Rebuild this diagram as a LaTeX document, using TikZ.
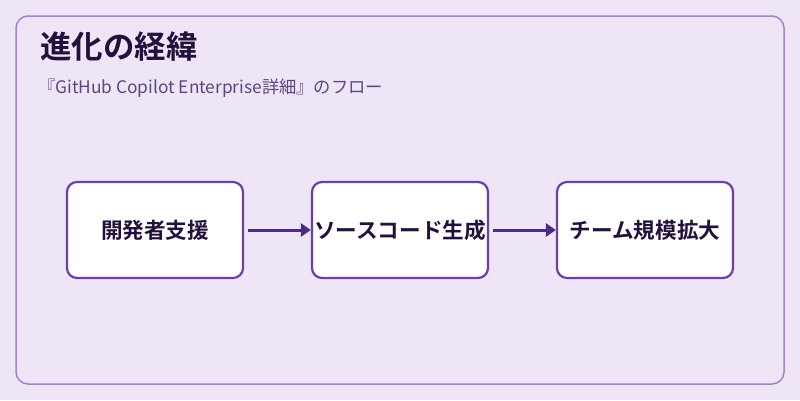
\documentclass[tikz,border=0pt]{standalone}
\usepackage{fontspec}
\setmainfont{Noto Sans CJK JP}
\newfontfamily\jpbold{Noto Sans CJK JP Bold}
\usetikzlibrary{arrows.meta}
\definecolor{bgc}{HTML}{EEE6F6}
\definecolor{framec}{HTML}{A282D2}
\definecolor{boxc}{HTML}{6A40A6}
\definecolor{arrc}{HTML}{4E2A86}
\definecolor{titlec}{HTML}{24103C}
\definecolor{subc}{HTML}{5A4680}
\begin{document}
\begin{tikzpicture}[x=1pt,y=-1pt,
  stepbox/.style={draw=boxc,line width=2.2pt,fill=white,rounded corners=10pt,
    minimum width=176pt,minimum height=96pt,inner sep=0pt,
    font=\jpbold\fontsize{21.6}{24}\selectfont,text=titlec},
  flow/.style={draw=arrc,line width=3pt,-{Triangle[length=10pt,width=13pt]}}]
\fill[bgc] (0,0) rectangle (800,400);
\useasboundingbox (0,0) rectangle (800,400);
\draw[framec,line width=1.5pt,rounded corners=12pt] (16,16) rectangle (784,384);
\node[anchor=west,inner sep=0pt,text=titlec,font=\jpbold\fontsize{31.5}{34}\selectfont] (title) at (40,47) {進化の経緯};
\node[anchor=west,inner sep=0pt,text=subc,font=\fontsize{17.3}{20}\selectfont] (sub) at (38,88) {『GitHub Copilot Enterprise詳細』のフロー};
\node[stepbox] (a) at (155,230) {開発者支援};
\node[stepbox] (b) at (400,230) {ソースコード生成};
\node[stepbox] (c) at (645,230) {チーム規模拡大};
\draw[flow] ([xshift=4pt]a.east) -- (b.west);
\draw[flow] ([xshift=4pt]b.east) -- (c.west);
\end{tikzpicture}
\end{document}
